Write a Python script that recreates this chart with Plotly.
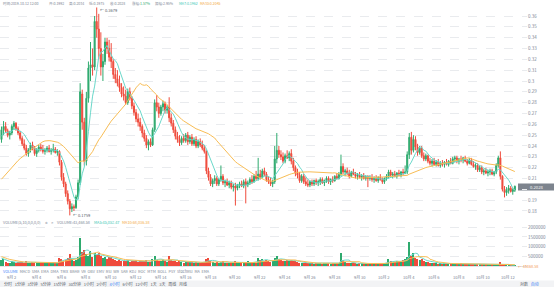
import plotly.graph_objects as go
import pandas as pd

W, H = 554, 287

opens = [.246,.255,.258,.254,.250,.252,.258,.261,.256,.252,.247,.242,.238,.233,.236,.241,.238,.233,.236,.239,
.237,.235,.236,.238,.235,.236,.237,.234,.235,.225,.211,.205,.196,.189,.182,.184,.183,.193,.206,.288,
.262,.226,.284,.312,.315,.313,.355,.348,.330,.313,.318,.336,.330,.322,.318,.306,.302,.298,.294,.288,
.286,.280,.290,.284,.277,.271,.265,.262,.258,.252,.247,.241,.244,.241,.255,.280,.276,.270,.276,.279,
.273,.276,.266,.261,.255,.249,.246,.243,.247,.245,.250,.244,.248,.242,.246,.240,.244,.241,.238,.235,
.217,.211,.205,.208,.210,.205,.209,.212,.206,.207,.204,.206,.202,.203,.201,.204,.205,.203,.207,.204,
.206,.209,.207,.212,.210,.214,.211,.217,.214,.209,.207,.205,.207,.228,.236,.232,.230,.226,.231,.229,
.233,.226,.220,.215,.213,.208,.212,.207,.205,.204,.207,.205,.208,.206,.207,.209,.206,.208,.210,.207,
.209,.208,.212,.210,.214,.221,.216,.217,.215,.212,.216,.214,.212,.213,.211,.212,.210,.212,.210,.211,
.209,.210,.208,.211,.209,.207,.210,.212,.216,.213,.214,.212,.215,.213,.216,.215,.216,.232,.248,.236,
.246,.239,.234,.238,.231,.228,.231,.226,.224,.226,.223,.225,.222,.224,.223,.225,.223,.226,.224,.228,
.229,.226,.228,.227,.229,.226,.224,.227,.223,.221,.222,.218,.220,.216,.217,.215,.216,.217,.214,.216,
.222,.229,.212,.200,.197,.199,.201,.198,.1992]
highs = [.258,.263,.262,.256,.254,.260,.263,.262,.258,.254,.249,.246,.241,.238,.243,.244,.240,.238,.241,.242,
.241,.238,.240,.241,.238,.242,.239,.237,.236,.227,.215,.207,.199,.191,.187,.186,.195,.209,.298,.292,
.266,.290,.318,.336,.330,.360,.3679,.362,.345,.325,.340,.340,.338,.335,.320,.312,.310,.305,.298,.295,
.292,.293,.294,.286,.280,.274,.270,.266,.260,.255,.250,.246,.247,.257,.283,.287,.280,.278,.282,.281,
.278,.285,.270,.264,.258,.253,.250,.249,.251,.252,.253,.250,.251,.248,.249,.246,.247,.245,.241,.236,
.220,.214,.210,.213,.212,.210,.222,.214,.209,.210,.208,.208,.205,.206,.205,.207,.208,.209,.210,.208,
.211,.213,.214,.217,.229,.218,.219,.220,.216,.212,.211,.209,.240,.252,.240,.236,.234,.233,.236,.235,
.237,.229,.222,.219,.216,.214,.214,.211,.209,.208,.209,.209,.210,.209,.211,.211,.209,.212,.212,.210,
.212,.213,.215,.216,.232,.224,.219,.220,.218,.217,.219,.216,.215,.216,.214,.215,.213,.213,.213,.214,
.212,.213,.212,.214,.211,.211,.214,.218,.218,.216,.217,.216,.218,.217,.219,.222,.235,.252,.253,.250,
.249,.242,.240,.240,.234,.233,.232,.229,.228,.229,.227,.228,.226,.227,.226,.228,.227,.229,.230,.231,
.231,.229,.231,.230,.231,.228,.229,.229,.226,.224,.224,.222,.222,.219,.220,.218,.219,.219,.217,.224,
.231,.235,.213,.203,.202,.204,.203,.201,.2034]
lows = [.243,.250,.252,.248,.246,.250,.255,.254,.250,.245,.240,.236,.231,.230,.234,.236,.231,.230,.234,.235,
.233,.232,.234,.234,.232,.234,.233,.231,.222,.208,.202,.193,.186,.1759,.179,.180,.182,.191,.204,.255,
.222,.222,.280,.300,.305,.310,.340,.320,.305,.300,.315,.325,.318,.312,.302,.298,.295,.290,.285,.282,
.278,.278,.282,.274,.268,.262,.258,.254,.248,.244,.238,.236,.239,.240,.253,.272,.266,.268,.272,.270,
.270,.262,.258,.252,.246,.243,.240,.241,.243,.243,.241,.242,.240,.240,.238,.238,.239,.236,.233,.214,
.208,.203,.202,.205,.203,.203,.207,.204,.202,.203,.201,.200,.198,.185,.199,.201,.202,.201,.187,.202,
.204,.205,.206,.208,.208,.209,.210,.212,.207,.205,.203,.202,.205,.224,.229,.227,.224,.224,.228,.226,
.223,.217,.212,.210,.206,.206,.205,.203,.202,.202,.203,.203,.204,.203,.204,.205,.203,.206,.205,.204,
.206,.207,.209,.209,.212,.214,.212,.213,.210,.211,.213,.210,.209,.210,.208,.209,.208,.202,.208,.207,
.206,.207,.206,.208,.205,.205,.208,.210,.211,.210,.211,.210,.212,.211,.213,.214,.214,.228,.232,.234,
.236,.231,.232,.229,.226,.226,.224,.222,.221,.222,.221,.221,.220,.221,.220,.222,.221,.223,.223,.225,
.224,.223,.225,.224,.225,.222,.223,.222,.220,.218,.216,.216,.214,.213,.214,.212,.213,.213,.212,.214,
.220,.209,.198,.1925,.194,.196,.197,.195,.1975]
closes = [.255,.258,.254,.250,.252,.258,.261,.256,.252,.247,.242,.238,.233,.236,.241,.238,.233,.236,.239,.237,
.235,.236,.238,.235,.236,.237,.234,.235,.225,.211,.205,.196,.189,.182,.184,.183,.193,.206,.290,.262,
.226,.284,.312,.315,.313,.355,.348,.330,.313,.318,.336,.330,.322,.318,.306,.302,.298,.294,.288,.286,
.280,.290,.284,.277,.271,.265,.262,.258,.252,.247,.241,.244,.241,.255,.280,.276,.270,.276,.279,.273,
.276,.266,.261,.255,.249,.246,.243,.247,.245,.250,.244,.248,.242,.246,.240,.244,.241,.238,.235,.217,
.211,.205,.208,.210,.205,.209,.212,.206,.207,.204,.206,.202,.203,.201,.204,.205,.203,.207,.204,.206,
.209,.207,.212,.210,.214,.211,.217,.214,.209,.207,.205,.207,.228,.236,.232,.230,.226,.231,.229,.233,
.226,.220,.215,.213,.208,.212,.207,.205,.204,.207,.205,.208,.206,.207,.209,.206,.208,.210,.207,.209,
.208,.212,.210,.214,.221,.216,.217,.215,.212,.216,.214,.212,.213,.211,.212,.210,.212,.210,.211,.209,
.210,.208,.211,.209,.207,.210,.212,.216,.213,.214,.212,.215,.213,.216,.215,.216,.232,.248,.236,.246,
.239,.234,.238,.231,.228,.231,.226,.224,.226,.223,.225,.222,.224,.223,.225,.223,.226,.224,.228,.229,
.226,.228,.227,.229,.226,.224,.227,.223,.221,.222,.218,.220,.216,.217,.215,.216,.217,.214,.216,.222,
.229,.212,.200,.197,.199,.201,.198,.1997,.2028]
volumes_k = [300,340,220,180,160,260,210,170,190,230,200,180,260,150,170,190,140,160,180,210,
150,170,190,160,140,200,170,150,430,360,280,320,400,600,350,250,300,480,1450,700,
850,600,500,770,450,650,550,650,500,420,460,380,440,460,350,300,280,320,260,240,
280,300,230,250,270,300,220,260,240,280,310,200,220,380,520,330,280,260,300,240,
220,520,300,260,240,220,250,200,180,210,230,190,220,170,200,180,160,190,210,350,
430,250,200,180,220,160,190,280,170,150,160,140,170,260,150,130,160,140,170,240,
180,150,200,170,420,300,350,280,320,250,220,260,400,520,350,300,280,260,300,250,
320,280,240,200,180,160,150,170,140,130,150,120,140,160,130,120,150,140,130,120,
150,140,160,180,690,300,200,180,160,150,140,130,120,140,130,110,120,100,150,130,
120,110,130,140,120,150,170,360,250,220,200,240,280,230,300,350,450,1240,500,670,
420,380,300,350,280,220,200,180,160,140,150,120,130,110,140,120,100,130,150,120,
110,100,130,90,120,110,100,120,100,90,110,95,100,80,90,100,85,90,80,60,
80,200,60,50,55,48,40,39,43.47]

# history before the visible window, used only to warm up the moving averages
prior_closes = [.190,.192,.189,.191,.193,.190,.188,.191,.194,.192,.190,.193,.195,.192,.191,.194,.196,.193,
                .198,.205,.215,.228,.236,.242,.246,.250,.248,.252,.250]
prior_volumes_k = [600,550,700,500,450,600,400,350,380]

price_ticks = [0.18,0.19,0.20,0.21,0.22,0.23,0.24,0.25,0.26,0.27,0.28,0.29,0.30,0.31,0.32,0.33,0.34,0.35,0.36]
# "0.2" sits under the last-price tag in the reference, so it is left blank
price_tick_text = ["0.18","0.19","","0.21","0.22","0.23","0.24","0.25","0.26","0.27","0.28","0.29","0.3",
                   "0.31","0.32","0.33","0.34","0.35","0.36"]
vol_ticks = [500000,1000000,1500000,2000000]
vol_tick_text = ["500000","1000000","1500000","2000000"]
date_ticks = ["2019-09-02","2019-09-04","2019-09-06","2019-09-08","2019-09-10","2019-09-12","2019-09-14",
              "2019-09-16","2019-09-18","2019-09-20","2019-09-22","2019-09-24","2019-09-26","2019-09-28",
              "2019-09-30","2019-10-02","2019-10-04","2019-10-06","2019-10-08","2019-10-10","2019-10-12"]
date_text = ["9月 2","9月 4","9月 6","9月 8","9月 10","9月 12","9月 14","9月 16","9月 18","9月 20","9月 22",
             "9月 24","9月 26","9月 28","9月 30","10月 2","10月 4","10月 6","10月 8","10月 10","10月 12"]

UP = "#2eaa6e"
DOWN = "#ef4b3c"
MA_A = "#6ad8ca"
MA_B = "#f8bd55"
GRID = "#e9ebee"
TXT = "#7b8594"
FONT = "Noto Sans CJK SC"

n = len(closes)
times = pd.date_range("2019-09-01 04:00", periods=n, freq="4h")
step = pd.Timedelta(hours=4)
x0 = times[0] - 0.72 * step
x1 = x0 + (527 / 2.07) * step

cl = pd.Series(prior_closes + closes)
ma7 = cl.rolling(7).mean().iloc[-n:].values
ma30 = cl.rolling(30).mean().iloc[-n:].values
vols = pd.Series([v * 1000 for v in prior_volumes_k + volumes_k])
vma5 = vols.rolling(5).mean().iloc[-n:].values
vma10 = vols.rolling(10).mean().iloc[-n:].values
vol = vols.iloc[-n:].values
vcolors = [UP if c >= o else DOWN for o, c in zip(opens, closes)]

def py(px):
    return 1 - px / H

fig = go.Figure()
fig.add_trace(go.Candlestick(x=times, open=opens, high=highs, low=lows, close=closes,
                             increasing=dict(line=dict(color=UP, width=1), fillcolor=UP),
                             decreasing=dict(line=dict(color=DOWN, width=1), fillcolor=DOWN),
                             whiskerwidth=0, showlegend=False, hoverinfo="skip", xaxis="x", yaxis="y"))
fig.add_trace(go.Scatter(x=times, y=ma7, mode="lines", line=dict(color=MA_A, width=1), showlegend=False,
                         hoverinfo="skip", xaxis="x", yaxis="y"))
fig.add_trace(go.Scatter(x=times, y=ma30, mode="lines", line=dict(color=MA_B, width=1), showlegend=False,
                         hoverinfo="skip", xaxis="x", yaxis="y"))
fig.add_trace(go.Bar(x=times, y=vol, marker=dict(color=vcolors, line=dict(width=0)), width=2.4 * 3600 * 1000,
                     showlegend=False, hoverinfo="skip", xaxis="x2", yaxis="y2"))
fig.add_trace(go.Scatter(x=times, y=vma5, mode="lines", line=dict(color=MA_A, width=1), showlegend=False,
                         hoverinfo="skip", xaxis="x2", yaxis="y2"))
fig.add_trace(go.Scatter(x=times, y=vma10, mode="lines", line=dict(color=MA_B, width=1), showlegend=False,
                         hoverinfo="skip", xaxis="x2", yaxis="y2"))

dom_x = [0, 527 / W]
fig.update_layout(
    width=W, height=H, margin=dict(l=0, r=0, t=0, b=0),
    paper_bgcolor="white", plot_bgcolor="white",
    font=dict(family=FONT, size=4, color=TXT),
    xaxis=dict(domain=dom_x, range=[x0, x1], type="date", showticklabels=False, showgrid=False,
               zeroline=False, rangeslider=dict(visible=False), anchor="y"),
    xaxis2=dict(domain=dom_x, range=[x0, x1], type="date", showticklabels=False, showgrid=False,
                zeroline=False, matches="x", anchor="y2", showline=True, linecolor="#e3e5e8", linewidth=1),
    yaxis=dict(domain=[py(218), py(4)], range=[0.1735, 0.3711], side="right", tickvals=price_ticks,
               ticktext=price_tick_text, showgrid=True, gridcolor=GRID, griddash="dash", gridwidth=1,
               zeroline=False, ticks="", tickfont=dict(size=4.5, color=TXT), anchor="x"),
    yaxis2=dict(domain=[py(266), py(222)], range=[0, 2.27e6], side="right", tickvals=vol_ticks,
                ticktext=vol_tick_text, showgrid=True, gridcolor=GRID, griddash="dash", gridwidth=1,
                zeroline=False, ticks="", tickfont=dict(size=4.5, color=TXT), anchor="x2"),
    bargap=0,
)

ann = []
def txt(xpx, ypx, s, color=TXT, size=3.8, anchor="left"):
    ann.append(dict(x=xpx / W, y=py(ypx), xref="paper", yref="paper", text=s, showarrow=False,
                    xanchor=anchor, yanchor="middle", font=dict(size=size, color=color, family=FONT)))

# header tooltip row
HS = 3.5
txt(1, 3.5, "时间:2019-10-12 12:00", size=HS)
txt(47, 3.5, "开:0.1992", size=HS)
txt(67, 3.5, "高:0.2034", size=HS)
txt(87, 3.5, "低:0.1975", size=HS)
txt(108, 3.5, "收:0.2028", size=HS)
txt(130, 3.5, "涨幅:<span style='color:%s'>1.57%%</span>" % UP, size=HS)
txt(153, 3.5, "振幅:2.95%", size=HS)
txt(177, 3.5, "MA7:0.1962", color="#3cc7b4", size=HS)
txt(198, 3.5, "MA30:0.2045", color="#f3a93c", size=HS)

# volume legend row
txt(1, 222, "VOLUME(5,10,0,0,0,0)")
txt(42.5, 222, "⚙", size=3.2)
txt(48.5, 222, "✕", size=3.2)
txt(55, 222, "VOLUME:43,468.58")
txt(92, 222, "MA5:45,052.47", color="#3cc7b4")
txt(120, 222, "MA10:68,036.38", color="#f3a93c")

# indicator tabs
tabs = ["MACD","SMA","EMA","DMA","TRIX","BRAR","VR","OBV","EMV","RSI","WR","SAR","KDJ","ROC","MTM",
        "BOLL","PSY","StochRSI","MA","EMA"]
txt(1, 271, "<span style='color:#3b82f6'>VOLUME</span>  " + "  ".join(tabs), size=3.8)

# date labels along the time scale
for d, s in zip(date_ticks, date_text):
    ann.append(dict(x=pd.Timestamp(d), y=py(277), xref="x", yref="paper", text=s, showarrow=False,
                    xanchor="center", yanchor="middle", font=dict(size=4, color=TXT, family=FONT)))

# bottom toolbar
periods = ["分时","1分钟","3分钟","5分钟","15分钟","30分钟","1小时","2小时",
           "<span style='color:#3b82f6'>4小时</span>","6小时","12小时","1天","3天","周线","月线"]
txt(2, 284, "   ".join(periods), size=4, color="#555c66")
txt(518, 284, "对数   <span style='color:#3b82f6'>自动</span>", size=4, color="#555c66")

# high / low marks
ann.append(dict(x=times[46], y=0.3679, xref="x", yref="y", text="← 0.3679", showarrow=False, xanchor="left",
                xshift=1, yshift=-3, yanchor="middle", font=dict(size=4, color="#555c66", family=FONT)))
ann.append(dict(x=times[33], y=0.1759, xref="x", yref="y", text="← 0.1759", showarrow=False, xanchor="left",
                xshift=1, yanchor="middle", font=dict(size=4, color="#555c66", family=FONT)))

# last price tag
txt(536, 187, "0.2028", color="white", anchor="center", size=4.2)
# last volume tag
txt(516, 266, "← 43468.58", color="#f39c5a", size=3.8)

shapes = [
    dict(type="rect", xref="paper", yref="paper", x0=518 / W, x1=1, y0=py(190.5), y1=py(183.5),
         fillcolor="#7d848e", line=dict(width=0), layer="below"),
    dict(type="rect", xref="paper", yref="paper", x0=0, x1=1, y0=0, y1=py(280.5),
         fillcolor="#f2f3f5", line=dict(width=0), layer="below"),
]
fig.update_layout(annotations=ann, shapes=shapes)

fig.write_html("out.html")
